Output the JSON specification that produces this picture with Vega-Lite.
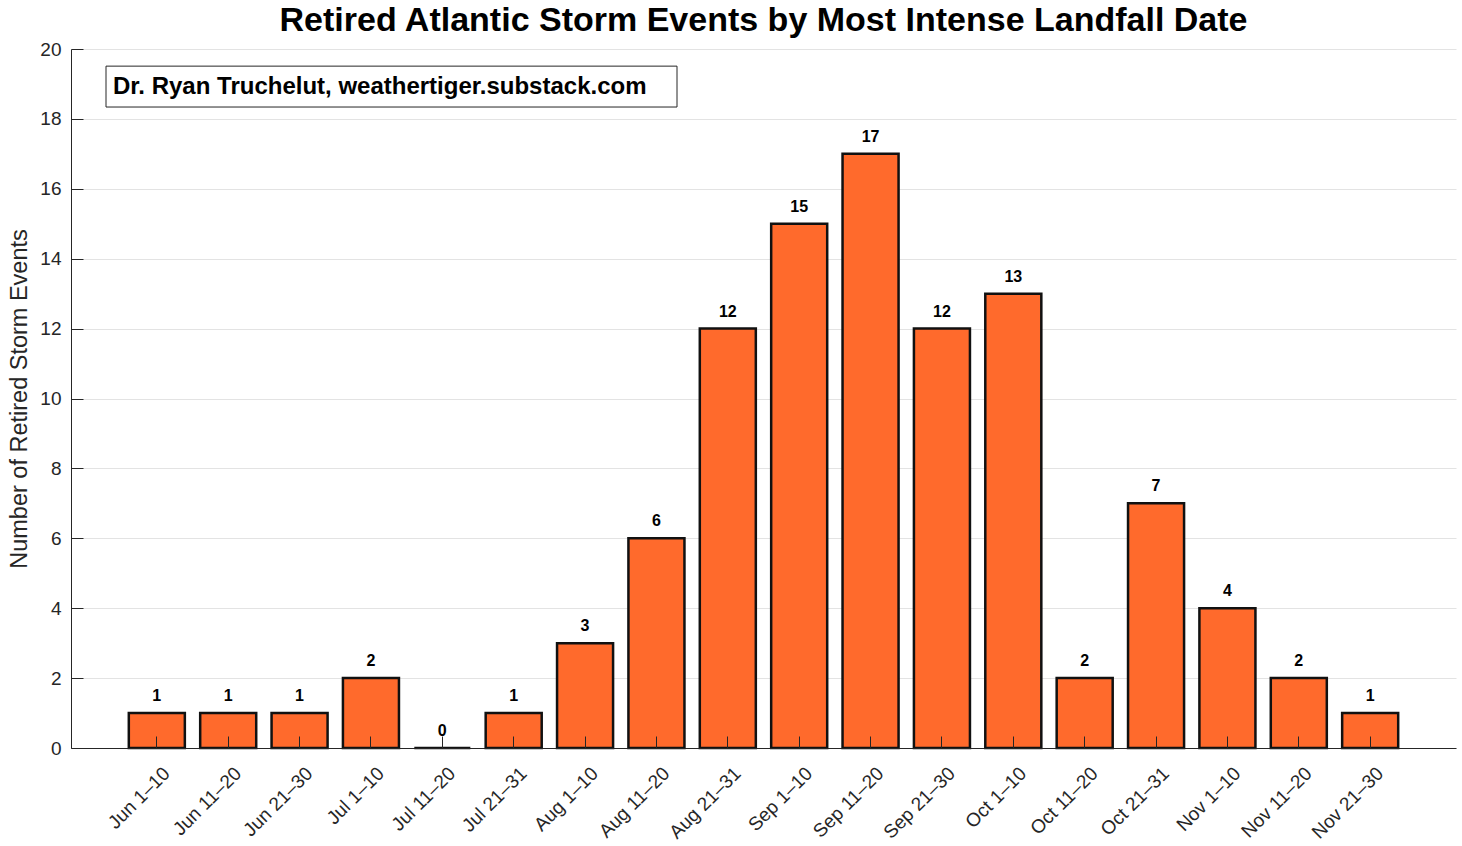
{
  "$schema": "https://vega.github.io/schema/vega-lite/v6.json",
  "autosize": {"type": "none"},
  "width": 1385,
  "height": 699,
  "padding": {"left": 71, "top": 49, "right": 6, "bottom": 98},
  "background": "white",
  "title": {
    "text": "Retired Atlantic Storm Events by Most Intense Landfall Date",
    "font": "Liberation Sans",
    "fontSize": 34,
    "fontWeight": "bold",
    "color": "black",
    "anchor": "middle",
    "offset": 2
  },
  "config": {
    "view": {"stroke": null},
    "font": "Liberation Sans"
  },
  "data": {
    "values": [
      {"period": "Jun 1–10", "count": 1},
      {"period": "Jun 11–20", "count": 1},
      {"period": "Jun 21–30", "count": 1},
      {"period": "Jul 1–10", "count": 2},
      {"period": "Jul 11–20", "count": 0},
      {"period": "Jul 21–31", "count": 1},
      {"period": "Aug 1–10", "count": 3},
      {"period": "Aug 11–20", "count": 6},
      {"period": "Aug 21–31", "count": 12},
      {"period": "Sep 1–10", "count": 15},
      {"period": "Sep 11–20", "count": 17},
      {"period": "Sep 21–30", "count": 12},
      {"period": "Oct 1–10", "count": 13},
      {"period": "Oct 11–20", "count": 2},
      {"period": "Oct 21–31", "count": 7},
      {"period": "Nov 1–10", "count": 4},
      {"period": "Nov 11–20", "count": 2},
      {"period": "Nov 21–30", "count": 1}
    ]
  },
  "encoding": {
    "x": {
      "field": "period",
      "type": "nominal",
      "sort": null,
      "scale": {"paddingInner": 0.215, "paddingOuter": 0.81},
      "axis": {
        "title": null,
        "labelAngle": -45,
        "labelAlign": "right",
        "labelBaseline": "middle",
        "labelFontSize": 19,
        "labelColor": "#262626",
        "labelPadding": 34,
        "labelOffset": 10,
        "tickSize": -12,
        "tickColor": "#262626",
        "tickWidth": 1,
        "domainColor": "#262626",
        "domainWidth": 1,
        "zindex": 1
      }
    },
    "y": {
      "field": "count",
      "type": "quantitative",
      "scale": {"domain": [0, 20], "nice": false},
      "axis": {
        "title": "Number of Retired Storm Events",
        "titleFontSize": 23.5,
        "titleFontWeight": "normal",
        "titleColor": "#262626",
        "titlePadding": 8,
        "values": [0, 2, 4, 6, 8, 10, 12, 14, 16, 18, 20],
        "labelFontSize": 19,
        "labelColor": "#262626",
        "labelPadding": 22,
        "tickSize": -12,
        "tickColor": "#262626",
        "domainColor": "#262626",
        "grid": true,
        "gridColor": "#e3e3e3",
        "gridWidth": 1,
        "zindex": 0
      }
    }
  },
  "layer": [
    {
      "mark": {"type": "bar", "fill": "#FF6A2C", "stroke": "#111111", "strokeWidth": 2.5}
    },
    {
      "mark": {"type": "text", "fontSize": 16, "fontWeight": "bold", "color": "black", "baseline": "bottom", "dy": -9},
      "encoding": {"text": {"field": "count", "type": "quantitative"}}
    },
    {
      "data": {"values": [{"note": "Dr. Ryan Truchelut, weathertiger.substack.com", "top": 19.51, "bottom": 18.34, "mid": 18.9}]},
      "layer": [
        {
          "mark": {"type": "rect", "fill": "white", "stroke": "#262626", "strokeWidth": 1},
          "encoding": {
            "x": {"value": 35},
            "x2": {"value": 606},
            "y": {"field": "top", "type": "quantitative"},
            "y2": {"field": "bottom"}
          }
        },
        {
          "mark": {"type": "text", "align": "left", "baseline": "middle", "fontSize": 24, "fontWeight": "bold", "color": "black"},
          "encoding": {
            "x": {"value": 42},
            "y": {"field": "mid", "type": "quantitative"},
            "text": {"field": "note"}
          }
        }
      ]
    }
  ]
}
